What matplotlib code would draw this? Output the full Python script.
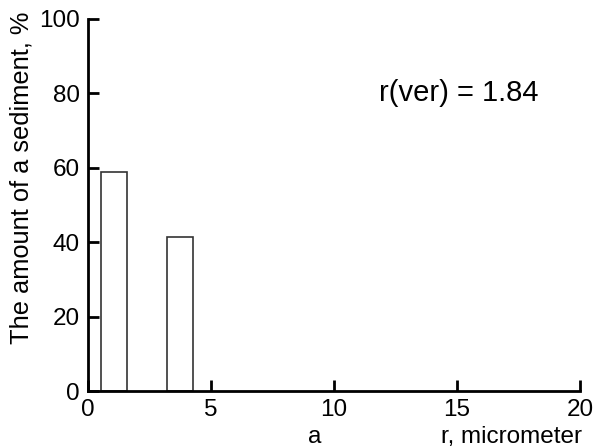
import matplotlib
matplotlib.use('Agg')
import matplotlib.pyplot as plt

# bar data (left edge, width, height)
bar_left = [0.53, 3.2]
bar_width = [1.06, 1.06]
bar_height = [58.9, 41.4]
xticks = [0, 5, 10, 15, 20]
yticks = [0, 20, 40, 60, 80, 100]
note = 'r(ver) = 1.84'

plt.rcParams['font.family'] = ['Liberation Sans', 'DejaVu Sans']

fig = plt.figure(figsize=(5.98, 4.48), dpi=100)
ax = fig.add_axes([0.147, 0.127, 0.823, 0.831])

ax.bar(bar_left, bar_height, width=bar_width, align='edge',
       facecolor='white', edgecolor='#333333', linewidth=1.2)

ax.set_xlim(0, 20)
ax.set_ylim(0, 100)
ax.set_xticks(xticks)
ax.set_yticks(yticks)
ax.tick_params(direction='in', length=8, width=2, labelsize=17.5, pad=6)
for s in ['top', 'right']:
    ax.spines[s].set_visible(False)
for s in ['left', 'bottom']:
    ax.spines[s].set_linewidth(2)

ax.text(0.754, 0.80, note, transform=ax.transAxes, fontsize=21,
        ha='center', va='center')
fig.text(22 / 598, 1 - 178 / 448, 'The amount of a sediment, %', rotation=90,
         fontsize=18.3, ha='center', va='center')
fig.text(315 / 598, 1 - 437 / 448, 'a', fontsize=17.5, ha='center', va='center')
fig.text(582 / 598, 1 - 437 / 448, 'r, micrometer', fontsize=17.5, ha='right', va='center')

fig.savefig('out.png', dpi=100)
